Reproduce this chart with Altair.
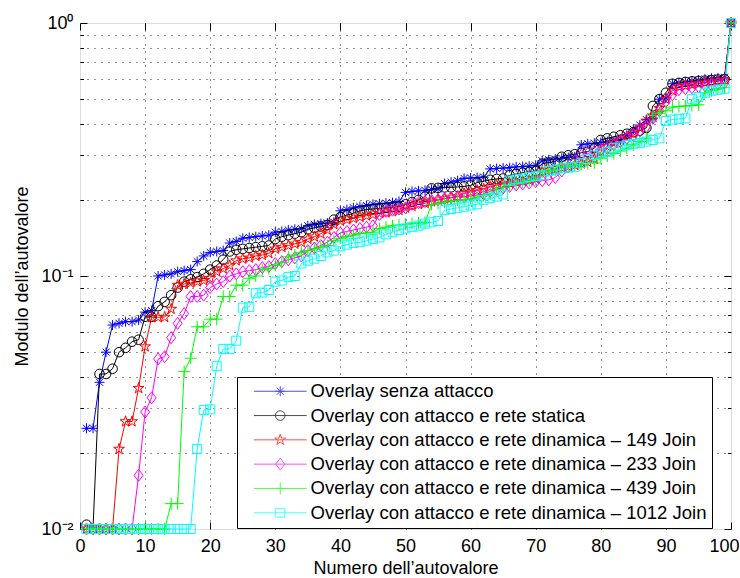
import altair as alt
import pandas as pd

# Eigenvalue index (1..100) and the series names shown in the legend
idx = list(range(1, 101))
labels = [
    "Overlay senza attacco",
    "Overlay con attacco e rete statica",
    "Overlay con attacco e rete dinamica – 149 Join",
    "Overlay con attacco e rete dinamica – 233 Join",
    "Overlay con attacco e rete dinamica – 439 Join",
    "Overlay con attacco e rete dinamica – 1012 Join",
]
colors = ["#0000ff", "#000000", "#ff0000", "#ff00ff", "#00ff00", "#00ffff"]

# Sorted eigenvalue moduli for each scenario
senza_attacco = [
    0.025, 0.025, 0.038, 0.050, 0.064, 0.065, 0.066, 0.066, 0.067, 0.072,
    0.073, 0.100, 0.101, 0.102, 0.104, 0.105, 0.106, 0.114, 0.120, 0.124,
    0.125, 0.126, 0.135, 0.137, 0.141, 0.142, 0.143, 0.144, 0.145, 0.149,
    0.150, 0.152, 0.153, 0.154, 0.158, 0.160, 0.161, 0.162, 0.163, 0.181,
    0.183, 0.186, 0.188, 0.190, 0.192, 0.193, 0.194, 0.195, 0.197, 0.214,
    0.216, 0.217, 0.218, 0.220, 0.221, 0.232, 0.235, 0.238, 0.243, 0.244,
    0.245, 0.246, 0.265, 0.266, 0.267, 0.268, 0.270, 0.271, 0.272, 0.274,
    0.285, 0.288, 0.290, 0.292, 0.294, 0.296, 0.330, 0.333, 0.335, 0.337,
    0.340, 0.342, 0.345, 0.360, 0.380, 0.395, 0.415, 0.420, 0.500, 0.505,
    0.575, 0.580, 0.585, 0.590, 0.595, 0.600, 0.605, 0.607, 0.610, 1.000,
]
rete_statica = [
    0.0104, 0.0100, 0.041, 0.041, 0.043, 0.050, 0.052, 0.055, 0.056, 0.069,
    0.069, 0.076, 0.079, 0.084, 0.090, 0.095, 0.097, 0.099, 0.102, 0.106,
    0.110, 0.116, 0.125, 0.127, 0.128, 0.129, 0.130, 0.131, 0.132, 0.140,
    0.143, 0.145, 0.147, 0.149, 0.153, 0.155, 0.157, 0.159, 0.167, 0.171,
    0.174, 0.177, 0.181, 0.183, 0.184, 0.185, 0.186, 0.187, 0.188, 0.192,
    0.196, 0.200, 0.206, 0.222, 0.223, 0.224, 0.224, 0.225, 0.226, 0.228,
    0.234, 0.237, 0.240, 0.242, 0.243, 0.250, 0.253, 0.256, 0.258, 0.260,
    0.278, 0.281, 0.283, 0.296, 0.300, 0.303, 0.307, 0.310, 0.320, 0.345,
    0.350, 0.355, 0.360, 0.365, 0.370, 0.375, 0.385, 0.470, 0.500, 0.530,
    0.575, 0.580, 0.585, 0.588, 0.590, 0.592, 0.595, 0.598, 0.600, 1.000,
]
dinamica_149 = [
    0.0100, 0.0100, 0.0100, 0.0100, 0.0100, 0.0207, 0.0266, 0.0266, 0.036, 0.0526,
    0.0687, 0.0687, 0.0688, 0.074, 0.092, 0.093, 0.094, 0.095, 0.096, 0.098,
    0.104, 0.107, 0.110, 0.115, 0.117, 0.118, 0.120, 0.121, 0.123, 0.128,
    0.130, 0.132, 0.134, 0.136, 0.140, 0.143, 0.147, 0.152, 0.160, 0.165,
    0.167, 0.169, 0.171, 0.173, 0.175, 0.177, 0.178, 0.180, 0.182, 0.186,
    0.189, 0.192, 0.194, 0.197, 0.200, 0.202, 0.204, 0.206, 0.212, 0.215,
    0.218, 0.221, 0.225, 0.229, 0.231, 0.233, 0.235, 0.237, 0.239, 0.242,
    0.258, 0.262, 0.265, 0.268, 0.271, 0.274, 0.278, 0.282, 0.290, 0.310,
    0.325, 0.335, 0.345, 0.355, 0.365, 0.385, 0.410, 0.430, 0.460, 0.500,
    0.540, 0.560, 0.565, 0.570, 0.575, 0.580, 0.585, 0.590, 0.595, 1.000,
]
dinamica_233 = [
    0.0100, 0.0100, 0.0100, 0.0100, 0.0100, 0.0100, 0.0100, 0.0100, 0.0163, 0.029,
    0.033, 0.047, 0.048, 0.057, 0.065, 0.071, 0.083, 0.083, 0.084, 0.090,
    0.093, 0.095, 0.100, 0.102, 0.104, 0.105, 0.106, 0.108, 0.109, 0.112,
    0.114, 0.116, 0.118, 0.120, 0.126, 0.129, 0.132, 0.136, 0.142, 0.148,
    0.150, 0.152, 0.154, 0.156, 0.158, 0.175, 0.180, 0.182, 0.184, 0.186,
    0.192, 0.195, 0.197, 0.199, 0.200, 0.202, 0.204, 0.206, 0.205, 0.207,
    0.209, 0.211, 0.216, 0.220, 0.223, 0.226, 0.229, 0.231, 0.233, 0.236,
    0.238, 0.240, 0.245, 0.260, 0.270, 0.285, 0.300, 0.305, 0.310, 0.315,
    0.320, 0.330, 0.340, 0.350, 0.360, 0.375, 0.390, 0.420, 0.450, 0.490,
    0.520, 0.545, 0.550, 0.555, 0.560, 0.565, 0.570, 0.575, 0.580, 1.000,
]
dinamica_439 = [
    0.0100, 0.0100, 0.0100, 0.0100, 0.0100, 0.0100, 0.0100, 0.0100, 0.0100, 0.0100,
    0.0100, 0.0100, 0.0100, 0.0126, 0.0126, 0.0419, 0.0473, 0.063, 0.063, 0.0675,
    0.0675, 0.083, 0.083, 0.092, 0.092, 0.098, 0.100, 0.106, 0.107, 0.110,
    0.113, 0.119, 0.121, 0.124, 0.126, 0.128, 0.130, 0.132, 0.138, 0.141,
    0.143, 0.145, 0.147, 0.148, 0.149, 0.154, 0.156, 0.158, 0.159, 0.160,
    0.161, 0.162, 0.163, 0.192, 0.194, 0.196, 0.198, 0.199, 0.200, 0.202,
    0.205, 0.208, 0.211, 0.220, 0.224, 0.228, 0.232, 0.235, 0.238, 0.241,
    0.258, 0.260, 0.262, 0.270, 0.272, 0.274, 0.276, 0.278, 0.280, 0.292,
    0.298, 0.305, 0.312, 0.320, 0.330, 0.340, 0.350, 0.430, 0.440, 0.450,
    0.465, 0.468, 0.470, 0.472, 0.475, 0.530, 0.540, 0.550, 0.555, 1.000,
]
dinamica_1012 = [
    0.0100, 0.0100, 0.0100, 0.0100, 0.0100, 0.0100, 0.0100, 0.0100, 0.0100, 0.0100,
    0.0100, 0.0100, 0.0100, 0.0100, 0.0100, 0.0100, 0.0100, 0.0207, 0.0295, 0.0297,
    0.044, 0.0515, 0.0515, 0.0555, 0.075, 0.0755, 0.0855, 0.086, 0.088, 0.095,
    0.096, 0.099, 0.100, 0.112, 0.115, 0.117, 0.120, 0.124, 0.126, 0.131,
    0.133, 0.135, 0.136, 0.138, 0.140, 0.142, 0.146, 0.149, 0.152, 0.154,
    0.156, 0.158, 0.161, 0.163, 0.165, 0.182, 0.184, 0.186, 0.188, 0.190,
    0.192, 0.200, 0.203, 0.206, 0.210, 0.238, 0.241, 0.243, 0.246, 0.248,
    0.250, 0.260, 0.263, 0.266, 0.268, 0.270, 0.280, 0.290, 0.300, 0.305,
    0.310, 0.320, 0.325, 0.330, 0.333, 0.336, 0.340, 0.345, 0.350, 0.410,
    0.415, 0.418, 0.420, 0.500, 0.510, 0.530, 0.540, 0.545, 0.550, 1.000,
]

all_series = [senza_attacco, rete_statica, dinamica_149, dinamica_233,
              dinamica_439, dinamica_1012]

df = pd.DataFrame({
    "idx": idx * len(labels),
    "val": [v for s in all_series for v in s],
    "series": [lab for lab in labels for _ in idx],
})

# Marker outlines (MATLAB style: *, o, pentagram, diamond, +, square)
marker_paths = [
    "M-0.83,0L0.83,0M0,-0.83L0,0.83M-0.59,-0.59L0.59,0.59M-0.59,0.59L0.59,-0.59",
    "M0.8,0A0.8,0.8,0,1,1,-0.8,0A0.8,0.8,0,1,1,0.8,0Z",
    "M0,-0.95L0.213,-0.294L0.903,-0.294L0.345,0.112L0.559,0.769L0,0.363"
    "L-0.559,0.769L-0.345,0.112L-0.903,-0.294L-0.213,-0.294Z",
    "M0,-1L0.75,0L0,1L-0.75,0Z",
    "M-1,0L1,0M0,-1L0,1",
    "M-0.75,-0.75L0.75,-0.75L0.75,0.75L-0.75,0.75Z",
]
legend_paths = ["M-4.4,0L4.4,0" + p for p in marker_paths]

major_x = list(range(0, 101, 10))
inner_x = list(range(10, 100, 10))
major_y = [0.01, 0.1, 1]
minor_y = [0.02, 0.03, 0.04, 0.05, 0.06, 0.07, 0.08, 0.09,
           0.2, 0.3, 0.4, 0.5, 0.6, 0.7, 0.8, 0.9]
grid_y = minor_y[:8] + [0.1] + minor_y[8:]

FONT = "Liberation Sans"
xscale = alt.Scale(domain=[0, 100], nice=False, zero=False)
yscale = alt.Scale(type="log", domain=[0.01, 1], nice=False)
color = alt.Color("series:N", scale=alt.Scale(domain=labels, range=colors), legend=None)

base = alt.Chart(df)
empty = alt.Chart(df).transform_filter(alt.datum.idx < 0)

no_axis_kw = dict(labels=False, domain=False, title=None, grid=False)
grid_kw = dict(ticks=False, labels=False, domain=False, title=None, grid=True,
               gridDash=[1, 6], gridColor="#000000", gridOpacity=0.85)

# dotted grid
grid = empty.mark_point(opacity=0).encode(
    x=alt.X("idx:Q", scale=xscale, axis=alt.Axis(orient="bottom", values=inner_x, **grid_kw)),
    y=alt.Y("val:Q", scale=yscale, axis=alt.Axis(orient="left", values=grid_y, **grid_kw)),
)

lines = base.mark_line(strokeWidth=1).encode(
    x=alt.X("idx:Q", scale=xscale, axis=alt.Axis(
        orient="bottom", values=major_x, tickSize=7, offset=-7, domain=False,
        grid=False, labelPadding=8, labelFlush=False, format="d",
        labelOffset={"condition": {"test": "datum.value >= 100", "value": -7}, "value": 0},
        labelFont=FONT, labelFontSize=18, labelColor="black", tickColor="black",
        title="Numero dell’autovalore", titleFont=FONT, titleFontSize=18,
        titleFontWeight="normal", titleColor="black", titlePadding=4)),
    y=alt.Y("val:Q", scale=yscale, axis=alt.Axis(
        orient="left", values=major_y, tickSize=7, offset=-7, domain=False,
        grid=False, labelPadding=7,
        labelExpr="datum.value < 0.05 ? '10⁻²' : (datum.value < 0.5 ? '10⁻¹' : '10⁰')",
        labelFont=FONT, labelFontSize=18, labelColor="black", tickColor="black",
        title="Modulo dell’autovalore", titleFont=FONT, titleFontSize=18,
        titleFontWeight="normal", titleColor="black", titlePadding=9)),
    color=color,
    detail="series:N",
)

points = base.mark_point(filled=False, strokeWidth=1, size=144, opacity=1).encode(
    x=alt.X("idx:Q", scale=xscale, axis=alt.Axis(
        orient="top", values=major_x, tickSize=7, offset=-7, tickColor="black",
        **no_axis_kw)),
    y=alt.Y("val:Q", scale=yscale, axis=alt.Axis(
        orient="right", values=major_y, tickSize=7, offset=-7, tickColor="black",
        **no_axis_kw)),
    color=color,
    shape=alt.Shape("series:N", scale=alt.Scale(domain=labels, range=marker_paths),
                    legend=None),
)

minor_left = empty.mark_point(opacity=0).encode(
    x=alt.X("idx:Q", scale=xscale, axis=None),
    y=alt.Y("val:Q", scale=yscale, axis=alt.Axis(
        orient="left", values=minor_y, tickSize=3.5, offset=-3.5, tickColor="black",
        **no_axis_kw)),
)
minor_right = empty.mark_point(opacity=0).encode(
    x=alt.X("idx:Q", scale=xscale, axis=None),
    y=alt.Y("val:Q", scale=yscale, axis=alt.Axis(
        orient="right", values=minor_y, tickSize=3.5, offset=-3.5, tickColor="black",
        **no_axis_kw)),
)

legend_kw = dict(
    orient="none", legendX=157, legendY=354, title=None,
    fillColor="white", strokeColor="black", padding=5, cornerRadius=0,
    symbolOffset=29, labelOffset=21, rowPadding=5.3,
    labelFont=FONT, labelFontSize=18.5, labelColor="black", labelLimit=600,
    symbolSize=144, symbolStrokeWidth=1, zindex=1,
)
key = empty.mark_point(filled=False, strokeWidth=1, size=144).encode(
    x=alt.X("idx:Q", scale=xscale, axis=None),
    y=alt.Y("val:Q", scale=yscale, axis=None),
    stroke=alt.Stroke("series:N", scale=alt.Scale(domain=labels, range=colors),
                      legend=alt.Legend(**legend_kw)),
    shape=alt.Shape("series:N", scale=alt.Scale(domain=labels, range=legend_paths),
                    legend=alt.Legend(**legend_kw)),
)

chart = (
    alt.layer(grid, lines, points, minor_left, minor_right, key)
    .resolve_scale(shape="independent", stroke="independent")
    .resolve_axis(x="independent", y="independent")
    .properties(
        width=651, height=506,
        padding={"left": 80, "top": 23, "right": 9, "bottom": 49},
        autosize=alt.AutoSizeParams(type="none"),
    )
    .configure_view(stroke="black", strokeWidth=1)
    .configure(font=FONT, background="white")
)

chart.save("out.html", embed_options={"renderer": "svg", "actions": False})
